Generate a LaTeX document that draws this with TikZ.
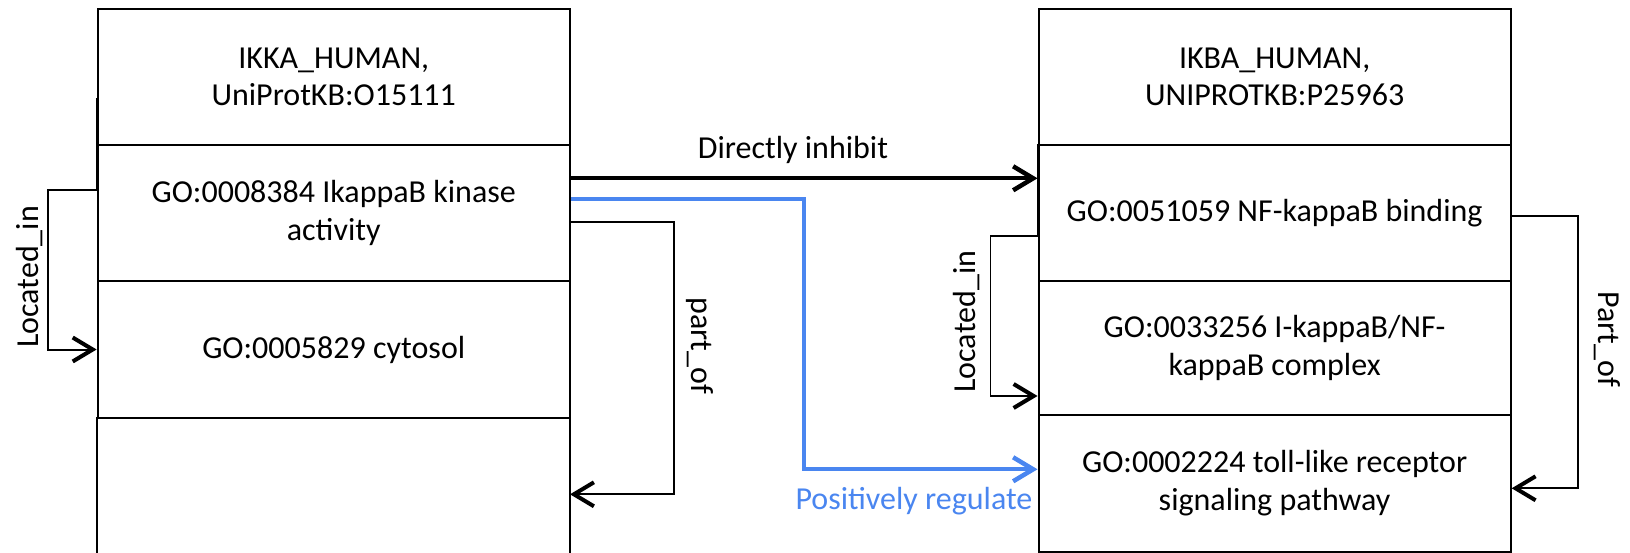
\documentclass[tikz,border=0pt]{standalone}
\usepackage{fontspec}
\setmainfont{Carlito}
\usetikzlibrary{arrows.meta}
\definecolor{posblue}{RGB}{74,134,240}
\begin{document}
\begin{tikzpicture}[x=1pt,y=-1pt,
  every node/.style={font=\fontsize{32}{37.5}\selectfont},
  cell/.style={draw, line width=2pt, minimum width=472.2pt, inner sep=0pt, align=center},
  conn/.style={line width=2pt, -{Straight Barb[length=20pt,width=24pt,line width=4pt]}},
  thinconn/.style={line width=1.5pt, -{Straight Barb[length=20pt,width=24pt,line width=4pt]}},
  strongarrow/.style={line width=4pt, -{Straight Barb[length=20pt,width=24pt,line width=4.5pt]}},
  bluearrow/.style={posblue, line width=4pt, -{Straight Barb[length=20pt,width=24pt,line width=4.5pt]}}
]
\useasboundingbox (0,0) rectangle (1630,553);
% left box
\node[cell, minimum height=136pt] (ikkaA) at (333.7,77) {IKKA\_HUMAN,\\UniProtKB:O15111};
\node[cell, minimum height=136pt] (ikkaB) at (333.7,213) {GO:0008384 IkappaB kinase\\activity};
\node[cell, minimum height=137pt] (ikkaC) at (333.7,349.5) {GO:0005829 cytosol};
\node[minimum width=472.2pt, minimum height=135pt, inner sep=0pt] (ikkaD) at (333.7,485.5) {};
\draw[line width=2pt] (ikkaD.south west) -- (ikkaD.north west) -- (ikkaD.north east) -- (ikkaD.south east);
% right box
\node[cell, minimum height=136pt] (ikbaA) at (1274.6,77) {IKBA\_HUMAN,\\UNIPROTKB:P25963};
\node[cell, minimum height=136pt] (ikbaB) at (1274.6,213) {GO:0051059 NF-kappaB binding};
\node[cell, minimum height=134pt] (ikbaC) at (1274.6,348) {GO:0033256 I-kappaB/NF-\\kappaB complex};
\node[cell, minimum height=136.5pt] (ikbaD) at (1274.6,483.3) {GO:0002224 toll-like receptor\\signaling pathway};
% helper coordinates
\coordinate (yDI) at (0,178.3);
\coordinate (bend1) at (804,199.3);
\coordinate (bend2) at (804,469.3);
\coordinate (liTop) at (0,98);
\coordinate (liL1) at (47.8,190);
\coordinate (poL1) at (674,221.7);
\coordinate (poL2) at (674,494.3);
\coordinate (liR1) at (990.7,236);
\coordinate (liR2) at (990.7,396);
\coordinate (poR1) at (1577.5,216);
\coordinate (poR2) at (1577.5,488.3);
% connectors
\draw[strongarrow] (ikkaB.east |- yDI) -- (ikbaB.west |- yDI);
\draw[bluearrow] (ikkaB.east |- bend1) -- (bend1) -- (bend2) -- (ikbaD.west |- bend2);
\draw[conn] (ikkaA.west |- liTop) -- (ikkaB.west |- liL1) -- (liL1) |- (ikkaC.west);
\draw[conn] (ikkaB.east |- poL1) -- (poL1) -- (poL2) -- (ikkaD.east |- poL2);
\draw[thinconn] (ikbaB.north west) -- (ikbaB.west |- liR1) -- (liR1) -- (liR2) -- (ikbaC.west |- liR2);
\draw[conn] (ikbaB.east |- poR1) -- (poR1) -- (poR2) -- (ikbaD.east |- poR2);
% labels
\node[anchor=base] (dilbl) at (793,159) {Directly inhibit};
\node[anchor=base east, text=posblue, inner sep=0pt] (prlbl) at (1032.5,509) {Positively regulate};
\node[rotate=90] (liLlbl) at (30,277) {Located\_in};
\node[rotate=-90] (poLlbl) at (700,345.5) {part\_of};
\node[rotate=90] (liRlbl) at (966.4,321.7) {Located\_in};
\node[rotate=-90] (poRlbl) at (1607,339) {Part\_of};
\end{tikzpicture}
\end{document}
